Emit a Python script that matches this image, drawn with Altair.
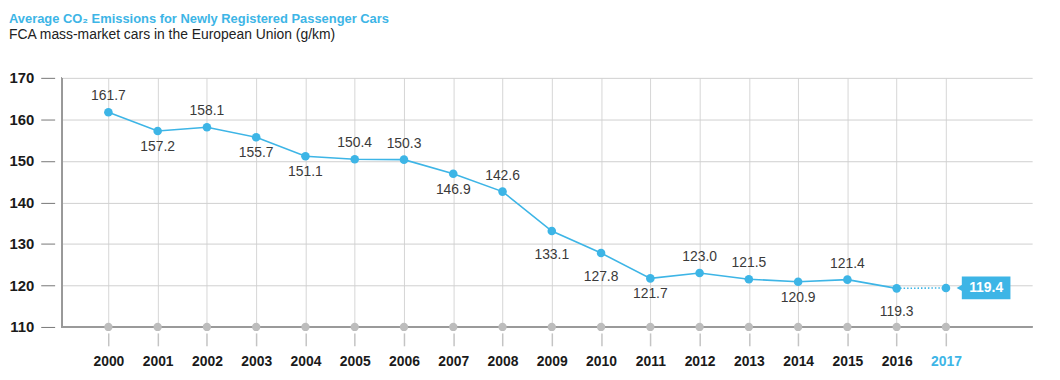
import altair as alt
import pandas as pd

years = list(range(2000, 2018))
values = [161.7, 157.2, 158.1, 155.7, 151.1, 150.4, 150.3, 146.9, 142.6,
          133.1, 127.8, 121.7, 123.0, 121.5, 120.9, 121.4, 119.3, 119.4]
label_side = ["above", "below", "above", "below", "below", "above", "above",
              "below", "above", "far", "far", "below", "above", "above",
              "below", "above", "far", "callout"]
y_ticks = [110, 120, 130, 140, 150, 160, 170]

BLUE = "#3db5e6"
FONT = "Liberation Sans"

df = pd.DataFrame({"year": years, "value": values, "side": label_side})
df["label"] = df["value"].map(lambda v: f"{v:.1f}")
df["base"] = 110

W, H = 978, 251

xs = alt.Scale(domain=[1999.05, 2018.75], nice=False, zero=False, padding=0)
ys = alt.Scale(domain=[110, 170], nice=False, zero=False, padding=0)

base = alt.Chart(df)

x_enc = alt.X("year:Q", scale=xs,
              axis=alt.Axis(values=years, format="d", title=None, grid=True,
                            gridColor="#d6d6d6", domain=False, offset=6,
                            tickSize=13, tickColor="#c4c4c4", tickWidth=1.5,
                            labelFont=FONT, labelFontSize=14,
                            labelFontWeight="bold", labelPadding=9,
                            labelColor=alt.expr("datum.value == 2017 ? '" + BLUE + "' : '#1a1a1a'")))
y_enc = alt.Y("value:Q", scale=ys,
              axis=alt.Axis(values=y_ticks, title=None, grid=True,
                            gridColor="#d0d0d0", domain=False, offset=7,
                            tickSize=14, tickColor="#777777",
                            labelFont=FONT, labelFontSize=15,
                            labelFontWeight="bold", labelColor="#1a1a1a",
                            labelPadding=7))

grid = base.mark_point(opacity=0).encode(x=x_enc, y=y_enc)

left_line = base.mark_rule(color="#9a9a9a", strokeWidth=1.2).encode(
    x=alt.value(0), y=alt.value(0), y2=alt.value(H))
bottom_line = base.mark_rule(color="#9a9a9a", strokeWidth=1.2).encode(
    x=alt.value(0), x2=alt.value(W), y=alt.value(H))

gray_dots = base.mark_circle(color="#bdbdbd", size=70, opacity=1).encode(
    x=alt.X("year:Q", scale=xs), y=alt.Y("base:Q", scale=ys))

solid = base.transform_filter("datum.year <= 2016").mark_line(
    color=BLUE, strokeWidth=1.6).encode(
    x=alt.X("year:Q", scale=xs), y=alt.Y("value:Q", scale=ys))
dotted = base.transform_filter("datum.year >= 2016").mark_line(
    color=BLUE, strokeWidth=1.6, strokeDash=[1.5, 2]).encode(
    x=alt.X("year:Q", scale=xs), y=alt.Y("value:Q", scale=ys))

points = base.mark_circle(color=BLUE, size=75, opacity=1).encode(
    x=alt.X("year:Q", scale=xs), y=alt.Y("value:Q", scale=ys))

def labels(side, dy):
    return base.transform_filter(f"datum.side == '{side}'").mark_text(
        font=FONT, fontSize=14, color="#3a3a3a", dy=dy, align="center",
        baseline="middle").encode(
        x=alt.X("year:Q", scale=xs), y=alt.Y("value:Q", scale=ys),
        text="label:N")

lab_above = labels("above", -16)
lab_below = labels("below", 16)
lab_far = labels("far", 24)

cal = base.transform_filter("datum.side == 'callout'")
box = cal.mark_rect(color=BLUE, xOffset=16, x2Offset=65, yOffset=-11.5,
                    y2Offset=11.5).encode(
    x=alt.X("year:Q", scale=xs), x2="year:Q",
    y=alt.Y("value:Q", scale=ys), y2="value:Q")
arrow = cal.mark_point(shape="triangle-left", filled=True, color=BLUE,
                       size=55, opacity=1, xOffset=14).encode(
    x=alt.X("year:Q", scale=xs), y=alt.Y("value:Q", scale=ys))
box_text = cal.mark_text(font=FONT, fontSize=14, fontWeight="bold",
                         color="white", xOffset=40.5, baseline="middle",
                         align="center").encode(
    x=alt.X("year:Q", scale=xs), y=alt.Y("value:Q", scale=ys),
    text="label:N")

chart = alt.layer(
    grid, left_line, bottom_line, gray_dots, solid, dotted, points,
    lab_above, lab_below, lab_far, box, arrow, box_text
).properties(
    width=W, height=H,
    title=alt.TitleParams(
        text="Average CO\u2082 Emissions for Newly Registered Passenger Cars",
        subtitle="FCA mass-market cars in the European Union (g/km)",
        anchor="start", frame="group", dx=-53, offset=29,
        font=FONT, fontSize=13, fontWeight="bold", color=BLUE,
        subtitleFont=FONT, subtitleFontSize=14, subtitleColor="#222222",
        subtitlePadding=2),
    autosize=alt.AutoSizeParams(type="none"),
    padding={"left": 54, "top": 69, "right": 20, "bottom": 45}
).configure_view(stroke=None)

chart.save("out.html", embed_options={"renderer": "svg", "actions": False})
